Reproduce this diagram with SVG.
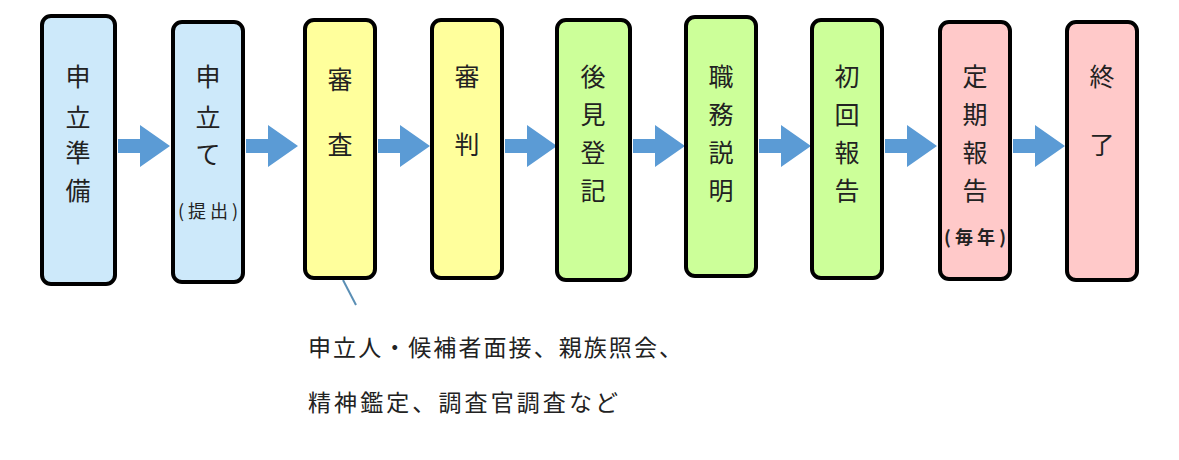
<svg xmlns="http://www.w3.org/2000/svg" width="1179" height="460" viewBox="0 0 1179 460">
<style>
.b{stroke:#000;stroke-width:4}
.blue{fill:#cde9fa}.yel{fill:#ffff9c}.grn{fill:#ccff99}.pink{fill:#ffc9c9}
text{font-family:"Noto Sans CJK JP","Noto Sans CJK SC",sans-serif;fill:#222;text-anchor:middle}
.t{font-size:25px}.s{font-size:18px}.n{font-size:23px;text-anchor:start}
.a{fill:#5b9bd5}
</style>
<defs>
<path id="ar" class="a" d="M0,-7 H22 V-21 L52,0 L22,21 V7 H0 Z"/>
</defs>
<rect width="1179" height="460" fill="#fff"/>
<g id="connectors">
<use href="#ar" x="118" y="146"/>
<use href="#ar" x="246" y="146"/>
<use href="#ar" x="378" y="146"/>
<use href="#ar" x="505" y="146"/>
<use href="#ar" x="633" y="146"/>
<use href="#ar" x="759" y="146"/>
<use href="#ar" x="885" y="146"/>
<use href="#ar" x="1013" y="146"/>
<line x1="343" y1="280" x2="356" y2="305" stroke="#5b8fb5" stroke-width="2"/>
</g>
<g id="n1"><rect class="b blue" x="42" y="16" width="73" height="268" rx="9"/>
<text class="t" x="78" y="86">申</text><text class="t" x="78" y="127">立</text><text class="t" x="78" y="162">準</text><text class="t" x="78" y="200">備</text></g>
<g id="n2"><rect class="b blue" x="173" y="22" width="70" height="260" rx="9"/>
<text class="t" x="208" y="86">申</text><text class="t" x="208" y="127">立</text><text class="t" x="208" y="164">て</text><text class="s" x="208" y="218" textLength="60">(提出)</text></g>
<g id="n3"><rect class="b yel" x="305" y="20" width="70" height="258" rx="9"/>
<text class="t" x="340" y="89">審</text><text class="t" x="340" y="154">査</text></g>
<g id="n4"><rect class="b yel" x="432" y="20" width="70" height="258" rx="9"/>
<text class="t" x="467" y="86">審</text><text class="t" x="467" y="154">判</text></g>
<g id="n5"><rect class="b grn" x="557" y="20" width="73" height="260" rx="9"/>
<text class="t" x="593" y="86">後</text><text class="t" x="593" y="124">見</text><text class="t" x="593" y="162">登</text><text class="t" x="593" y="200">記</text></g>
<g id="n6"><rect class="b grn" x="686" y="17" width="70" height="259" rx="9"/>
<text class="t" x="721" y="86">職</text><text class="t" x="721" y="124">務</text><text class="t" x="721" y="162">説</text><text class="t" x="721" y="200">明</text></g>
<g id="n7"><rect class="b grn" x="812" y="20" width="70" height="258" rx="9"/>
<text class="t" x="847" y="86">初</text><text class="t" x="847" y="124">回</text><text class="t" x="847" y="162">報</text><text class="t" x="847" y="200">告</text></g>
<g id="n8"><rect class="b pink" x="940" y="22" width="70" height="257" rx="9"/>
<text class="t" x="975" y="86">定</text><text class="t" x="975" y="124">期</text><text class="t" x="975" y="162">報</text><text class="t" x="975" y="200">告</text><text class="s" x="975" y="244" font-weight="bold" textLength="62">(毎年)</text></g>
<g id="n9"><rect class="b pink" x="1067" y="22" width="70" height="258" rx="9"/>
<text class="t" x="1102" y="86">終</text><text class="t" x="1102" y="154">了</text></g>
<text class="n" x="308" y="356" textLength="374">申立人・候補者面接、親族照会、</text>
<text class="n" x="308" y="411" textLength="310">精神鑑定、調査官調査など</text>
</svg>
